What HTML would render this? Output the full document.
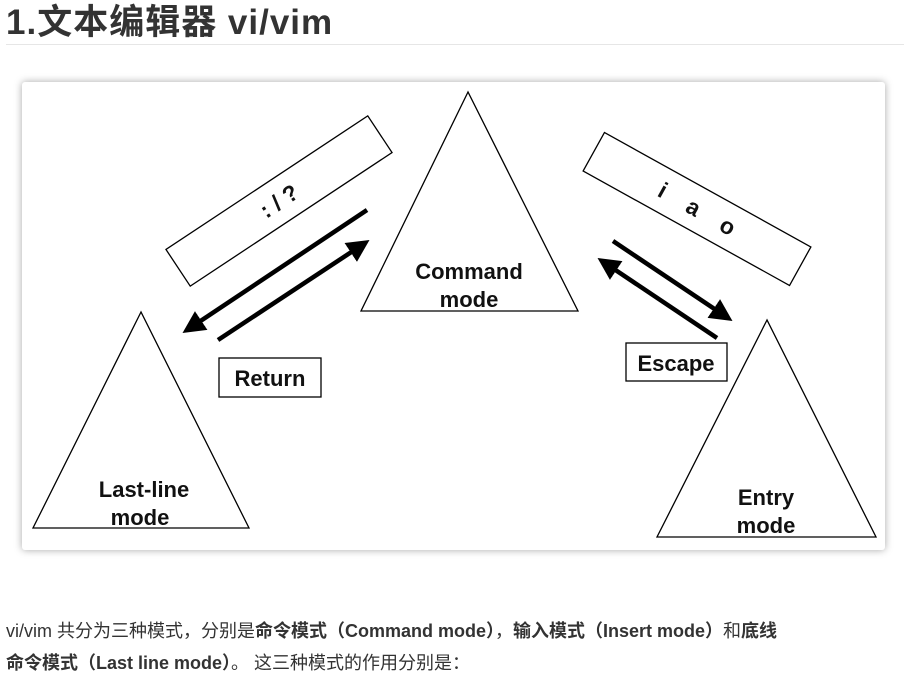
<!DOCTYPE html>
<html><head><meta charset="utf-8"><style>
body{margin:0;width:913px;height:696px;background:#fff;overflow:hidden;font-family:"Liberation Sans","Noto Sans CJK SC",sans-serif;color:#333}
h1{position:absolute;left:6px;top:3px;margin:0;font-size:35px;font-weight:bold;letter-spacing:1px;line-height:40px;white-space:nowrap}
.rule{position:absolute;left:6px;top:44px;width:898px;height:1px;background:#e6e6e6}
.card{position:absolute;left:22px;top:82px;width:863px;height:468px;background:#fff;box-shadow:0 0 8px rgba(0,0,0,0.35);border-radius:3px}
svg{position:absolute;left:0;top:0}
.p{position:absolute;left:6px;font-size:18px;line-height:32px;top:615px;width:905px;white-space:nowrap}
</style></head><body>
<h1>1.文本编辑器 vi/vim</h1>
<div class="rule"></div>
<div class="card"></div>
<svg width="913" height="696" font-family="Liberation Sans, sans-serif">
<defs><marker id="a" markerWidth="6" markerHeight="6" refX="3" refY="3" orient="auto" markerUnits="strokeWidth"><path d="M0,0.5 L5,3 L0,5.5z" fill="#000"/></marker></defs>
<g fill="none" stroke="#000" stroke-width="1.3">
<polygon points="468,92 361,311 578,311"/>
<polygon points="141,312 33,528 249,528"/>
<polygon points="767,320 657,537 876,537"/>
<rect x="219" y="358" width="102" height="39"/>
<rect x="626" y="343" width="101" height="38"/>
<g transform="translate(279,201) rotate(-33.5)"><rect x="-121" y="-22" width="242" height="44"/></g>
<g transform="translate(697,209) rotate(29)"><rect x="-118" y="-22" width="236" height="44"/></g>
</g>
<g stroke="#000" stroke-width="4.5" marker-end="url(#a)">
<line x1="367" y1="210" x2="190" y2="328"/>
<line x1="218" y1="340" x2="362" y2="245"/>
<line x1="613" y1="241" x2="725" y2="316"/>
<line x1="717" y1="338" x2="605" y2="263"/>
</g>
<g font-weight="bold" font-size="22" text-anchor="middle" fill="#111">
<text x="469" y="279">Command</text><text x="469" y="307">mode</text>
<text x="144" y="497">Last-line</text><text x="140" y="525">mode</text>
<text x="766" y="505">Entry</text><text x="766" y="533">mode</text>
<text x="270" y="386">Return</text><text x="676" y="371">Escape</text>
<text transform="translate(279,201) rotate(-33.5)" y="8" font-size="23">:  /  ?</text>
<text transform="translate(697,209) rotate(29)" y="8" font-size="23" xml:space="preserve">i    a    o</text>
</g>
</svg>
<div class="p">vi/vim 共分为三种模式，分别是<b>命令模式（Command mode）</b>，<b>输入模式（Insert mode）</b>和<b>底线</b><br><b>命令模式（Last line mode）</b>。 这三种模式的作用分别是：</div>
</body></html>
